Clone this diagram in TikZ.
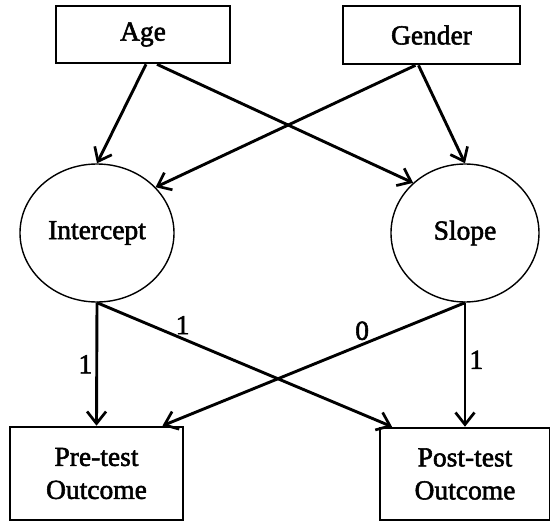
\documentclass[tikz,border=0pt]{standalone}
\usepackage{fontspec}
\setmainfont{Liberation Serif}[FakeBold=2]
\usetikzlibrary{arrows.meta,shapes.geometric}
\begin{document}
\begin{tikzpicture}[x=1pt,y=-1pt,
  box/.style={draw,line width=2.6pt,minimum width=#1,inner sep=0pt,align=center},
  latent/.style={draw,ellipse,line width=1.4pt,inner sep=0pt},
  path/.style={line width=2.9pt,-{Straight Barb[length=12pt,width=19pt,line width=2.7pt]}},
  lbl/.style={inner sep=3pt},
  every node/.style={font=\fontsize{27.5}{33}\selectfont}]
\useasboundingbox (0,0) rectangle (550,522);
\node[box=174pt,minimum height=57pt] (age) at (143,34.5) {Age};
\node[box=177pt,minimum height=58pt] (gender) at (431.5,35) {Gender};
\node[latent,minimum width=154pt,minimum height=138pt] (int) at (97,233) {Intercept};
\node[latent,minimum width=148pt,minimum height=138pt] (slope) at (465,233) {Slope};
\node[box=173pt,minimum height=93pt] (pre) at (96.5,473.5) {Pre-test\\Outcome};
\node[box=170pt,minimum height=92pt] (post) at (465,474) {Post-test\\Outcome};
\draw[path] ([xshift=3pt]age.south) -- (int.north);
\draw[path] ([xshift=14pt]age.south) -- (slope.136);
\draw[path] ([xshift=-16pt]gender.south) -- (int.38);
\draw[path] ([xshift=-13pt]gender.south) -- (slope.north);
\draw[path] (int.south) -- node[lbl,left,pos=0.5]{1} (pre.north);
\draw[path] (int.south) -- node[lbl,above,pos=0.29]{1} ([xshift=-73pt]post.north);
\draw[path] (slope.south) -- node[lbl,above,pos=0.34]{0} ([xshift=66pt]pre.north);
\draw[path] (slope.south) -- node[lbl,right,pos=0.46]{1} (post.north);
\end{tikzpicture}
\end{document}
